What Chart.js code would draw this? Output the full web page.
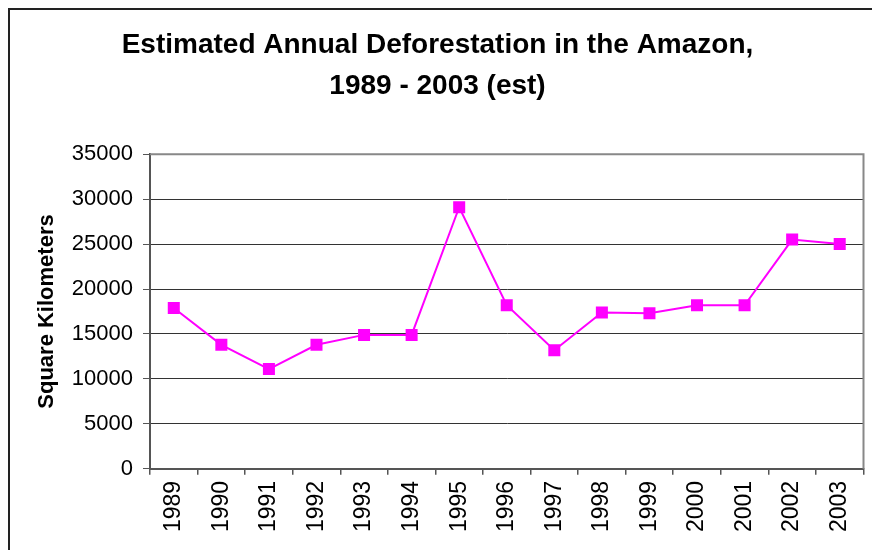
<!DOCTYPE html>
<html>
<head>
<meta charset="utf-8">
<script src="https://cdn.jsdelivr.net/npm/chart.js@4/dist/chart.umd.min.js"></script>
<style>
    html, body { margin: 0; padding: 0; background: #fff; }
    #wrap { width: 872px; height: 550px; position: relative; }
</style>
</head>
<body>
<div id="wrap"><canvas id="chart" width="872" height="550"></canvas></div>
<script>
// Estimated annual deforestation, Amazon 1989 - 2003
const years = ['1989', '1990', '1991', '1992', '1993', '1994', '1995', '1996',
    '1997', '1998', '1999', '2000', '2001', '2002', '2003'];
const squareKm = [17900, 13800, 11100, 13800, 14900, 14900, 29100, 18200,
    13200, 17400, 17300, 18200, 18200, 25500, 25000];
const titleLines = ['Estimated Annual Deforestation in the Amazon,', '1989 - 2003 (est)'];
const yTitle = 'Square Kilometers';

const FONT = "'Liberation Sans', Arial, sans-serif";

// Outer chart frame + grey plot-area border (Excel style)
const framePlugin = {
    id: 'frame',
    beforeDraw(chart) {
        const ctx = chart.ctx;
        ctx.save();
        ctx.strokeStyle = '#222';
        ctx.lineWidth = 2;
        ctx.beginPath();
        ctx.moveTo(9, 550);
        ctx.lineTo(9, 9);
        ctx.lineTo(872, 9);
        ctx.stroke();
        ctx.restore();
    },
    afterDatasetsDraw(chart) {
        const { ctx, chartArea } = chart;
        ctx.save();
        ctx.strokeStyle = '#888';
        ctx.lineWidth = 2;
        ctx.beginPath();
        ctx.moveTo(chartArea.left, chartArea.top);
        ctx.lineTo(chartArea.right, chartArea.top);
        ctx.lineTo(chartArea.right, chartArea.bottom);
        ctx.stroke();
        ctx.restore();
    }
};

const ctx = document.getElementById('chart').getContext('2d');
new Chart(ctx, {
    type: 'line',
    data: {
        labels: years,
        datasets: [{
            data: squareKm,
            borderColor: '#ff00ff',
            backgroundColor: '#ff00ff',
            borderWidth: 2,
            pointStyle: 'rect',
            pointRadius: 8.5,
            pointHoverRadius: 8.5,
            pointBorderWidth: 0,
            tension: 0
        }]
    },
    options: {
        responsive: false,
        animation: false,
        layout: { padding: { left: 8, right: 5, top: 0, bottom: 12 } },
        plugins: {
            legend: { display: false },
            tooltip: { enabled: false },
            title: {
                display: true,
                text: titleLines,
                color: '#000',
                font: { family: FONT, size: 28, weight: 'bold', lineHeight: 1.45 },
                padding: { top: 25, bottom: 48 }
            }
        },
        scales: {
            x: {
                offset: true,
                afterFit(scale) { scale.paddingLeft = 0; scale.paddingRight = 0; },
                grid: {
                    offset: true,
                    drawOnChartArea: false,
                    drawTicks: true,
                    tickLength: 6,
                    color: '#555',
                    lineWidth: 1.5
                },
                border: { color: '#555', width: 2 },
                ticks: {
                    color: '#000',
                    font: { family: FONT, size: 23 },
                    minRotation: 90,
                    maxRotation: 90,
                    padding: 6,
                    autoSkip: false
                }
            },
            y: {
                min: 0,
                max: 35000,
                afterFit(scale) { scale.width = 142; },
                grid: {
                    color: '#333',
                    lineWidth: 1,
                    tickLength: 7,
                    tickColor: '#555'
                },
                border: { color: '#555', width: 2 },
                ticks: {
                    stepSize: 5000,
                    color: '#000',
                    font: { family: FONT, size: 22 },
                    padding: 10,
                    callback: (v) => String(v)
                },
                title: {
                    display: true,
                    text: yTitle,
                    color: '#000',
                    font: { family: FONT, size: 22, weight: 'bold' },
                    padding: { top: 26, bottom: 0 }
                }
            }
        }
    },
    plugins: [framePlugin]
});
</script>
</body>
</html>
